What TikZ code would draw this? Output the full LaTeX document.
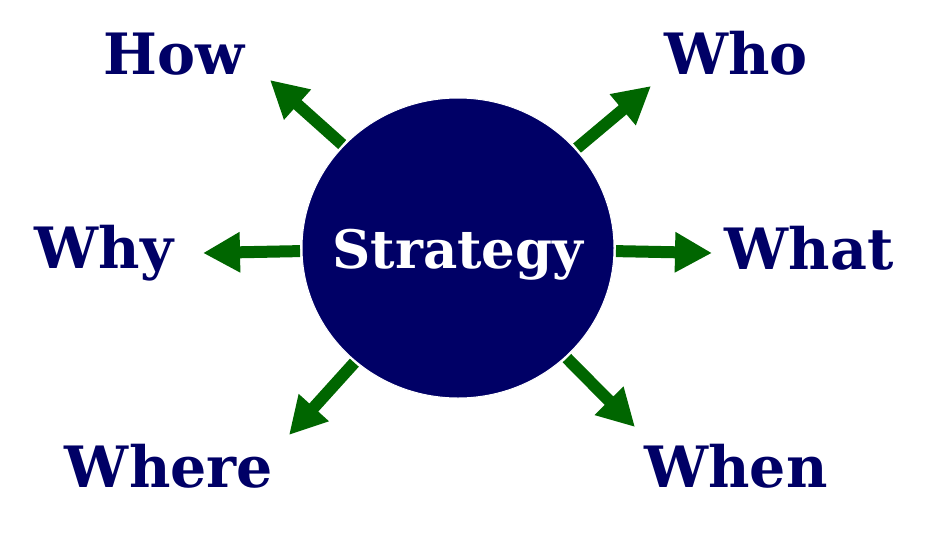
\documentclass[tikz,border=0pt]{standalone}
\usepackage{fontspec}
\setmainfont{DejaVu Serif}
\usetikzlibrary{shapes.geometric,arrows.meta}
\definecolor{navy}{RGB}{0,0,102}
\definecolor{leaf}{RGB}{0,102,0}
\begin{document}
\begin{tikzpicture}[x=1pt,y=-1pt,
		word/.style={font=\bfseries\fontsize{57}{60}\selectfont, text=navy, anchor=base, inner sep=0pt},
		spoke/.style={draw=leaf, line width=12pt, shorten <=1.5pt, -{Triangle[length=37pt,width=38pt]}}]
		\useasboundingbox (0,0) rectangle (926,536);
		
		\node[ellipse, fill=navy, draw=white, line width=1pt, minimum width=312pt, minimum height=300pt, inner sep=0pt,
			text=white, font=\bfseries\fontsize{53}{60}\selectfont, text height=40pt, text depth=0pt] (strategy) at (458,248) {\makebox[0pt]{Strategy}};
		
		\node[word] (how) at (174,74) {How};
		\node[word] (who) at (736,74) {Who};
		\node[word] (why) at (104,268) {Why};
		\node[word] (what) at (809,269) {What};
		\node[word] (where) at (169,487) {Where};
		\node[word] (when) at (736,487) {When};
		
		% arrow tips
		\coordinate (howtip) at (270,80);
		\coordinate (whotip) at (651,86);
		\coordinate (whytip) at (203,253);
		\coordinate (whattip) at (712,253);
		\coordinate (wheretip) at (289,435);
		\coordinate (whentip) at (635,427);
		
		\draw[spoke] (strategy) -- (howtip);
		\draw[spoke] (strategy) -- (whotip);
		\draw[spoke] (strategy) -- (whytip);
		\draw[spoke] (strategy) -- (whattip);
		\draw[spoke] (strategy) -- (wheretip);
		\draw[spoke] (strategy) -- (whentip);
	\end{tikzpicture}
\end{document}
